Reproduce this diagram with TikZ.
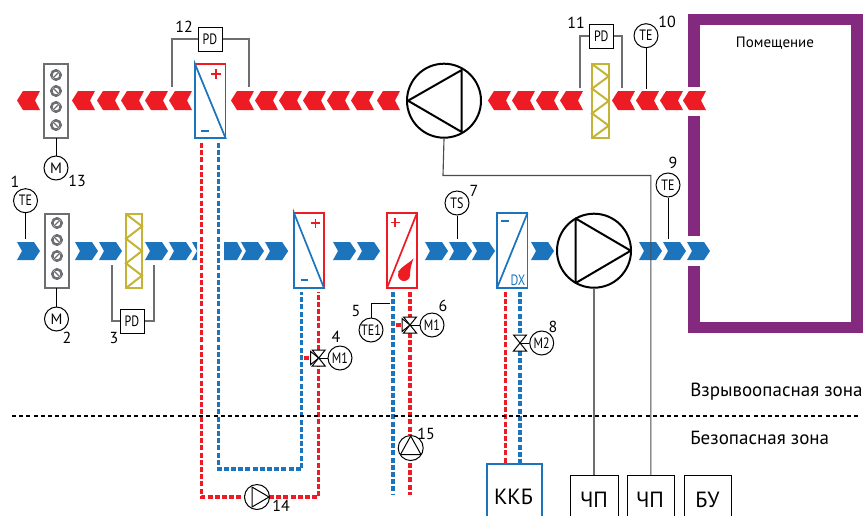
\documentclass[tikz,border=0pt]{standalone}
\usepackage{fontspec}
\setmainfont{PT Sans}
\definecolor{redc}{HTML}{ED1C24}
\definecolor{bluec}{HTML}{1C75BC}
\definecolor{grayc}{HTML}{6D6E71}
\definecolor{olivec}{HTML}{C4B335}
\definecolor{purplec}{HTML}{832A7E}
\newcommand{\px}[1]{\pgfmathsetmacro\pxs{#1*.75}\fontsize{\pxs}{#1}\selectfont}
\newcommand{\chevL}[1]{\fill[redc] (#1,100.5)--++(6,-9.5)--++(17,0)--++(-5,9.5)--++(5,9.5)--++(-17,0)--cycle;}
\newcommand{\chevR}[1]{\fill[bluec] (#1,242)--++(17,0)--++(6,9)--++(-6,9)--++(-17,0)--++(5,-9)--cycle;}
\newcommand{\ndisc}[3]{\draw[discst,line width=1.9pt] (#1,#2) circle (4.7);\draw[line width=1.2pt,white] (#1-5.5,#2+#3*5.5)--(#1+5.5,#2-#3*5.5);\draw[line width=.9pt,grayc] (#1-4,#2+#3*4)--(#1+4,#2-#3*4);}
\newcommand{\zigzag}[3]{\draw[olivec,line width=1.6pt,line join=miter] (#1,#3) rectangle (#1+#2,#3+74);
 \draw[olivec,line width=1.5pt] (#1,#3)--++(#2,12.33)--++(-#2,12.33)--++(#2,12.33)--++(-#2,12.33)--++(#2,12.33)--++(-#2,12.33);}
\newcommand{\valvebody}[2]{\draw[valvest] (#1-6.5,#2-8)--(#1+6.5,#2-8)--(#1,#2)--cycle;\draw[valvest] (#1-6.5,#2+8)--(#1+6.5,#2+8)--(#1,#2)--cycle;}
\newcommand{\valveside}[2]{\draw[valvest] (#1-8,#2-6.5)--(#1-8,#2+6.5)--(#1,#2)--cycle;}
\tikzset{
 x=.75pt,y=-.75pt,
 inst/.style={draw=black,fill=white,circle,line width=.75pt,minimum size=18pt,inner sep=0pt,font=\px{15}},
 pdbox/.style={draw=black,fill=white,rectangle,line width=.75pt,minimum size=18pt,inner sep=0pt,font=\px{15}},
 fanc/.style={draw=black,fill=white,circle,line width=1.5pt,minimum size=55.5pt,inner sep=0pt},
 pumpc/.style={draw=black,fill=white,circle,line width=.75pt,minimum size=18.75pt,inner sep=0pt},
 lead/.style={draw=black,line width=.75pt},
 glead/.style={draw=grayc,line width=1pt},
 redpipe/.style={draw=redc,line width=2.4pt,dash pattern=on 3.7pt off 1.7pt},
 bluepipe/.style={draw=bluec,line width=2.4pt,dash pattern=on 3.7pt off 1.7pt},
 discst/.style={draw=grayc,line width=1.5pt},
 valvest/.style={draw=black,fill=white,line width=.75pt},
 hx/.style={line width=1.3pt},
 num/.style={font=\px{16},inner sep=0pt},
 zone/.style={font=\px{19},inner sep=0pt,anchor=west},
 boxc/.style={draw=black,fill=white,line width=.75pt,inner sep=0pt,font=\px{22}},
}
\begin{document}
\begin{tikzpicture}
\clip (0,0) rectangle (866,515);
\useasboundingbox (0,0) rectangle (866,515);
% room
\fill[purplec] (688,13.5) rectangle (863,25);
\fill[purplec] (851,13.5) rectangle (863,333);
\fill[purplec] (688,321.6) rectangle (863,333);
\fill[purplec] (688,13.5) rectangle (700,86.7);
\fill[purplec] (688,116) rectangle (700,235.7);
\fill[purplec] (688,265.7) rectangle (700,333);
\node[font=\px{15},inner sep=0pt] (room) at (775,43) {Помещение};
% chevrons
\foreach \x in {17,72,97,121,145,169,231,255,279,303,327,351,377,488,512,536,560,612,636,660,683}{\chevL{\x}}
\foreach \x in {17,75,99,145,169,241,265,333,357,425,449,472,531,639,663,687}{\chevR{\x}}
\fill[bluec] (192,242)--(197,242)--(197,260)--(192,260)--(197,251)--cycle;
\fill[bluec] (224,242)--(237,242)--(242,251)--(237,260)--(224,260)--cycle;
\fill[bluec] (280,242)--(282,242)--(288,251)--(282,260)--(280,260)--(285,251)--cycle;
% dampers
\draw[discst] (44,64) rectangle (68,138);
\ndisc{56}{75}{1}\ndisc{56}{91}{-1}\ndisc{56}{107}{1}\ndisc{56}{125}{-1}
\draw[discst] (45,214) rectangle (69,288);
\ndisc{57}{223}{1}\ndisc{57}{240}{-1}\ndisc{57}{256}{1}\ndisc{57}{274}{-1}
\coordinate (d1b) at (56,138);\coordinate (d2b) at (56.5,288);
\node[inst] (m13) at (56,168) {M};
\node[inst] (m2) at (56.5,319) {M};
\draw[lead] (d1b)--(m13);
\draw[lead] (d2b)--(m2);
% filters
\zigzag{126}{16}{214}
\zigzag{592}{16.7}{64}
% exchanger pipes
\draw[redpipe] (201.6,143)--(201.6,497)--(245,497);
\draw[redpipe] (269,497)--(318.7,497)--(318.7,366);
\draw[redpipe] (318.7,350)--(318.7,292);
\draw[bluepipe] (218.6,143)--(218.6,469)--(301.7,469)--(301.7,292);
\draw[redpipe] (304,358)--(311,358);
\draw[bluepipe] (393,292)--(393,495);
\draw[redpipe] (410,292)--(410,317);
\draw[redpipe] (410,333)--(410,434);
\draw[redpipe] (410,463)--(410,495);
\draw[redpipe] (396,325)--(402,325);
\draw[redpipe] (505.7,292)--(505.7,463);
\draw[bluepipe] (520,292)--(520,335);
\draw[bluepipe] (520,351)--(520,463);
% exchangers
\draw[hx,draw=redc] (195,64)--(225.5,64)--(225.5,138);
\draw[hx,draw=bluec] (195,64)--(195,138)--(225.5,138)--cycle;
\draw[redc,line width=1.2pt] (211,74)--(221,74) (216,69)--(216,79);
\draw[bluec,line width=1.5pt] (200.5,131)--(208.5,131);
\draw[hx,draw=redc] (294,213)--(324,213)--(324,288);
\draw[hx,draw=bluec] (294,213)--(294,288)--(324,288)--cycle;
\draw[redc,line width=1.2pt] (311,223)--(320,223) (315.5,218.5)--(315.5,227.5);
\draw[bluec,line width=1.5pt] (300.5,280)--(308,280);
\draw[hx,draw=redc] (387,213) rectangle (417,288);
\draw[hx,draw=redc] (387,288)--(417,213);
\draw[redc,line width=1.2pt] (391,222.5)--(399.5,222.5) (395.2,218)--(395.2,227);
\fill[redc] (404,275) circle (6);
\fill[redc] (398,272)..controls (402,266) and (408,264)..(413.5,258.5)..controls (411,265) and (410,270)..(410,276)--cycle;
\draw[hx,draw=bluec] (497,213) rectangle (527.5,288);
\draw[hx,draw=bluec] (497,288)--(527.5,213);
\draw[bluec,line width=1.5pt] (501,221)--(508.5,221);
\node[text=bluec,font=\px{15},inner sep=0pt] (dx) at (518,280) {\scalebox{.8}[1]{DX}};
% valves
\coordinate (v4) at (318.7,358);\coordinate (v6) at (410,325);\coordinate (v8) at (520,343);
\node[inst] (vm4) at (340,358) {\scalebox{.8}[1]{M1}};
\node[inst] (vm6) at (432,325) {\scalebox{.8}[1]{M1}};
\node[inst] (vm8) at (541.7,343) {\scalebox{.8}[1]{M2}};
\draw[lead] (v4)--(vm4);\draw[lead] (v6)--(vm6);\draw[lead] (v8)--(vm8);
\valveside{318.7}{358}\valvebody{318.7}{358}
\valveside{410}{325}\valvebody{410}{325}
\valvebody{520}{343}
% instruments
\coordinate (te1e) at (25.5,239);\coordinate (tse) at (457,239);\coordinate (te9e) at (668,239);\coordinate (te10e) at (646,89);\coordinate (te15e) at (390,303);
\node[inst] (te1) at (25.5,200.7) {\scalebox{.8}[1]{TE}};
\node[inst] (ts) at (457,203) {\scalebox{.8}[1]{TS}};
\node[inst] (te9) at (668,185) {\scalebox{.8}[1]{TE}};
\node[inst] (te10) at (646,35.7) {\scalebox{.8}[1]{TE}};
\node[inst] (te5) at (371,330) {\scalebox{.8}[1]{TE1}};
\draw[lead] (te1)--(te1e);\draw[lead] (ts)--(tse);\draw[lead] (te9)--(te9e);\draw[lead] (te10)--(te10e);
\draw[lead] (te5)--(te5|-te15e)--(te15e);
% PD
\node[pdbox] (pd3) at (132,321) {\scalebox{.8}[1]{PD}};
\node[pdbox] (pd12) at (210,39) {\scalebox{.8}[1]{PD}};
\node[pdbox] (pd11) at (601.3,36) {\scalebox{.8}[1]{PD}};
\coordinate (p3l) at (112,265);\coordinate (p3r) at (154,265);
\coordinate (p12l) at (172,87);\coordinate (p12r) at (249,87);
\coordinate (p11l) at (580,88);\coordinate (p11r) at (622,88);
\draw[glead] (p3l)--(p3l|-pd3)--(pd3);\draw[glead] (p3r)--(p3r|-pd3)--(pd3);
\draw[glead] (p12l)--(p12l|-pd12)--(pd12);\draw[glead] (p12r)--(p12r|-pd12)--(pd12);
\draw[glead] (p11l)--(p11l|-pd11)--(pd11);\draw[glead] (p11r)--(p11r|-pd11)--(pd11);
% boxes
\node[draw=bluec,fill=white,line width=1.2pt,minimum width=41.25pt,minimum height=45pt,anchor=north west,inner sep=0pt] (kkb) at (486,463) {};
\node[font=\px{22},inner sep=0pt] (kkbt) at (513.5,497) {ККБ};
\node[boxc,minimum width=35.8pt,minimum height=45pt,anchor=north west] (cp1) at (570,475) {};
\node[boxc,minimum width=35.5pt,minimum height=45pt,anchor=north west] (cp2) at (626.7,475) {};
\node[boxc,minimum width=35.3pt,minimum height=45pt,anchor=north west] (bu) at (684,475) {};
\node[font=\px{22},inner sep=0pt] (cp1t) at (594,500) {ЧП};
\node[font=\px{22},inner sep=0pt] (cp2t) at (650,500) {ЧП};
\node[font=\px{22},inner sep=0pt] (but) at (707.5,500) {БУ};
% fans
\node[fanc] (fan1) at (444,100.7) {};
\draw[black,line width=1.5pt,line join=round] (408,100.7)--(461.7,70)--(461.7,132)--cycle;
\node[fanc] (fan2) at (594,250.7) {};
\draw[black,line width=1.5pt,line join=round] (630.7,250.7)--(575.7,218.5)--(575.7,283)--cycle;
\draw[glead] (fan2.south)--(fan2.south|-cp1.north);
\coordinate (hbend) at (443,175.5);
\draw[draw=black!70,line width=.85pt] (fan1.south)--(hbend)--(hbend-|cp2.north)--(cp2.north);
% pumps
\node[pumpc] (p14) at (257,497) {};
\draw[black,line width=.75pt,line join=round] (252,487)--(269,497)--(252,507)--cycle;
\node[pumpc] (p15) at (410.7,448) {};
\draw[black,line width=.75pt,line join=round] (410.7,436)--(421,454.5)--(400.5,454.5)--cycle;
% zone line
\coordinate (za) at (12,415.7);\coordinate (zb) at (858,415.7);
\draw[black,line width=1.5pt,dash pattern=on 3pt off 2.4pt] (za)--(zb);
\node[zone] (z1) at (690,392) {Взрывоопасная зона};
\node[zone] (z2) at (690,438) {Безопасная зона};
% numbers
\node[num] (n1) at (15,182) {1};
\node[num] (n2) at (67,338) {2};
\node[num] (n3) at (114,338) {3};
\node[num] (n4) at (336,337) {4};
\node[num] (n5) at (356,311) {5};
\node[num] (n6) at (443,306) {6};
\node[num] (n7) at (474,191) {7};
\node[num] (n8) at (553,327) {8};
\node[num] (n9) at (673,163) {9};
\node[num] (n10) at (667,22) {10};
\node[num] (n11) at (576,23) {11};
\node[num] (n12) at (184,27) {12};
\node[num] (n13) at (77,181) {13};
\node[num] (n14) at (281,505.5) {14};
\node[num] (n15) at (426,434) {15};
\end{tikzpicture}
\end{document}
